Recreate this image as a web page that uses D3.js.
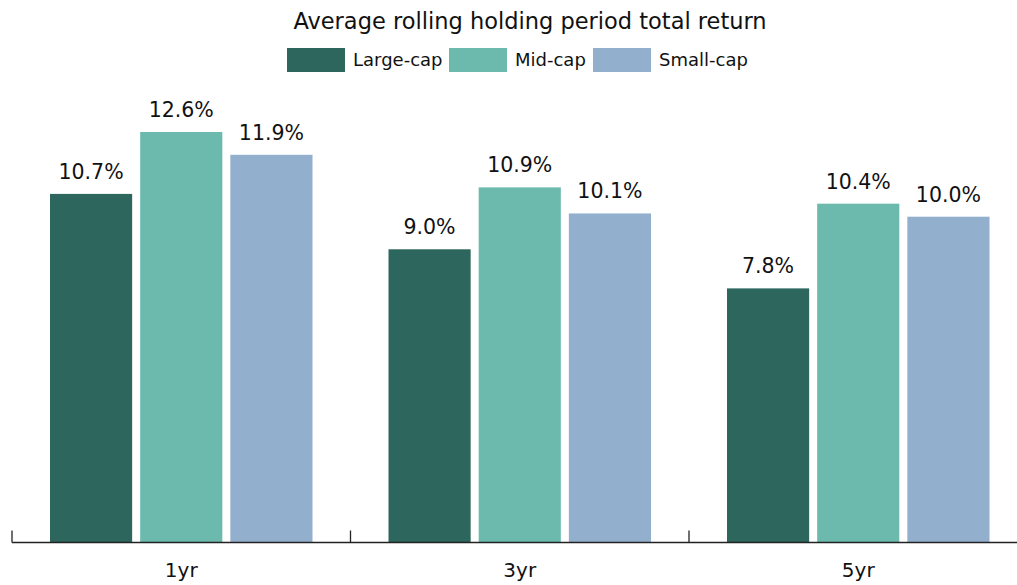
<!DOCTYPE html>
<html><head><meta charset="utf-8">
<script src="https://cdn.jsdelivr.net/npm/d3@7"></script>
<style>body{margin:0;background:#fff}svg{display:block;font-family:"DejaVu Sans",sans-serif}</style>
</head><body><svg id="c" width="1017" height="585"></svg>
<script>
const categories = ["1yr","3yr","5yr"];
const seriesNames = ["Large-cap","Mid-cap","Small-cap"];
const largeCap = [10.7, 9.0, 7.8];
const midCap = [12.6, 10.9, 10.4];
const smallCap = [11.9, 10.1, 10.0];
const colors = ["#2D665C","#6BBAAD","#92AFCD"];
const title = "Average rolling holding period total return";

const series = [largeCap, midCap, smallCap];
const svg = d3.select("#c");
const x0 = d3.scaleBand().domain(categories).range([12, 1027.5]).paddingInner(0).paddingOuter(0);
const x1 = d3.scaleBand().domain(seriesNames).range([38, 300.5]).paddingInner(0.089).paddingOuter(0);
const y = d3.scaleLinear().domain([0, 12.6]).range([542.5, 132]);

// title
svg.append("text").attr("x", 530).attr("y", 29).attr("text-anchor","middle")
  .attr("font-size", 22.5).attr("fill","#111").text(title);

// legend
const legendX = [287, 449, 593];
seriesNames.forEach((s,i)=>{
  svg.append("rect").attr("x", legendX[i]).attr("y", 48).attr("width", 58).attr("height", 24).attr("fill", colors[i]);
  svg.append("text").attr("x", legendX[i]+66).attr("y", 66).attr("font-size", 18).attr("fill","#111").text(s);
});

// bars
const g = svg.append("g");
categories.forEach((c, ci)=>{
  const gg = g.append("g").attr("transform", `translate(${x0(c)},0)`);
  seriesNames.forEach((s, si)=>{
    const v = series[si][ci];
    gg.append("rect").attr("x", x1(s)).attr("y", y(v)).attr("width", x1.bandwidth())
      .attr("height", y(0)-y(v)).attr("fill", colors[si]);
    gg.append("text").attr("x", x1(s)+x1.bandwidth()/2).attr("y", y(v)-15)
      .attr("text-anchor","middle").attr("font-size", 20.5).attr("fill","#111").text(v.toFixed(1)+"%");
  });
});

// axis
const ax = svg.append("g").attr("transform", `translate(0,${y(0)})`)
  .call(d3.axisBottom(x0).tickSize(0).tickPadding(20));
ax.select(".domain").attr("d", `M12,0H1017`).attr("stroke","#222").attr("stroke-width",1.3);
ax.selectAll("text").attr("font-size", 20).attr("fill","#111").attr("font-family","DejaVu Sans, sans-serif");
// group separator ticks
categories.forEach(c=>{
  ax.append("line").attr("x1", x0(c)).attr("x2", x0(c)).attr("y1", -12).attr("y2", 0).attr("stroke","#222").attr("stroke-width",1.3);
});
</script></body></html>
